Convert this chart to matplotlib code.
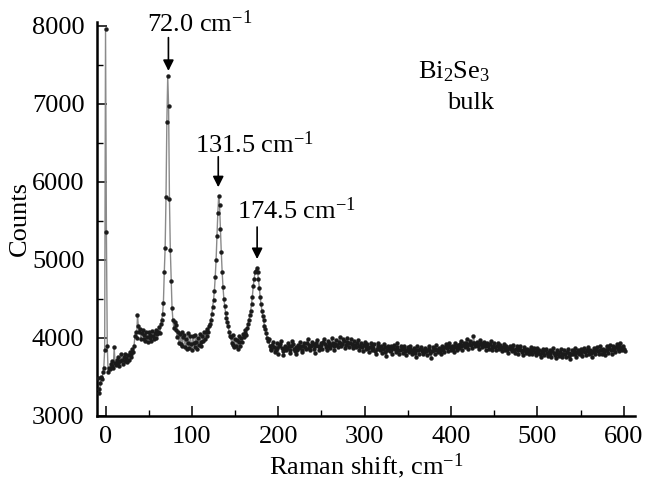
import numpy as np
import matplotlib
matplotlib.use("Agg")
import matplotlib.pyplot as plt
from matplotlib.ticker import MultipleLocator

# ---- data (Raman spectrum) ----
# segment A: 1 cm^-1 grid starting at -9 cm^-1
seg_a_start = -9.0
seg_a_step = 1.0
seg_a_counts = [
    3480, 3350, 3300, 3420, 3500, 3470, 3560, 3620, 3850, 7950,
    5350, 3900, 3560, 3620, 3600, 3660, 3640, 3700, 3610, 3880,
    3680, 3650, 3720, 3680, 3760, 3640, 3700, 3790, 3720, 3660,
    3750, 3700, 3800, 3740, 3690, 3780, 3720, 3820, 3760, 3800,
    3860, 3820, 3900, 4020, 4080, 4000, 4290, 4150, 4080, 4120,
    3980, 4060, 4100, 3990, 4040, 3960, 4070, 4010, 3950, 4080,
    4000, 4040, 3960, 4090, 4020, 3980, 4060, 4000, 4100, 4050,
    4080, 4140, 4060, 4180, 4230, 4300, 4450, 4840, 5150, 5800,
    6770, 7350, 6970, 5775, 5130, 4730, 4380, 4230, 4130, 4200,
    4100, 4170, 4010, 4080, 3940, 4050, 3920, 4070, 3900, 4010,
    4040, 3880, 3990, 3860, 4060, 3940, 3870, 4020, 3920, 3850,
    4030, 3930, 3880, 4040, 3950, 3860, 4000, 3910, 4050, 3950,
    3900, 4020, 3960, 4070, 3980, 4080, 4030, 4110, 4080, 4150,
    4180, 4230, 4300, 4400, 4480, 4600, 4780, 5000, 5300, 5600,
    5820, 5700, 5400, 5100, 4850, 4650, 4500, 4410, 4320, 4250,
    4200, 4150, 4080, 4030, 4010, 3940, 4040, 3910, 3880, 3990,
    3890, 3970, 3860, 3950, 4020, 3900, 4000, 3950, 4050, 4010,
    4060, 4100, 4040, 4130, 4180, 4230, 4290, 4350, 4430, 4530,
    4660, 4750, 4840, 4860, 4890, 4840, 4760, 4640, 4530, 4430,
    4350, 4280, 4230, 4150, 4120, 4060, 4000, 3960, 3980,
]
# segment B: 1 cm^-1 grid starting at 190 cm^-1
seg_b_start = 190.0
seg_b_step = 1.0
seg_b_counts = [
    3900, 3860, 3840, 3910, 3950, 3880, 3820, 3850, 3930, 3870, 3800, 3890, 3920, 3960, 3870, 3830, 3780, 3860, 3900, 3840,
    3870, 3930, 3890, 3810, 3850, 3900, 3960, 3920, 3860, 3830, 3880, 3800, 3840, 3910, 3870, 3950, 3890, 3850, 3820, 3900,
    3930, 3880, 3860, 3940, 3990, 3910, 3870, 3840, 3900, 3950, 3920, 3860, 3810, 3890, 3930, 3970, 3900, 3850, 3880, 3940,
    3910, 3860, 3950, 3990, 3920, 3880, 3840, 3900, 3960, 3930, 3870, 3910, 4000, 3940, 3890, 3850, 3920, 3970, 3910, 3880,
    3950, 4010, 3940, 3890, 3920, 3980, 3960, 3870, 3910, 3950, 4000, 3930, 3880, 3940, 3990, 3920, 3870, 3900, 3960, 3910,
    3880, 3940, 3970, 3900, 3850, 3890, 3930, 3880, 3830, 3910, 3950, 3890, 3860, 3920, 3870, 3820, 3880, 3940, 3900, 3850,
    3870, 3920, 3830, 3790, 3860, 3900, 3940, 3870, 3840, 3890, 3810, 3860, 3920, 3880, 3820, 3770, 3850, 3900, 3870, 3830,
    3890, 3840, 3800, 3870, 3910, 3860, 3820, 3880, 3930, 3850, 3790, 3840, 3890, 3860, 3810, 3870, 3900, 3830, 3780, 3850,
    3880, 3820, 3860, 3900, 3840, 3790, 3830, 3870, 3810, 3760, 3840, 3890, 3850, 3800, 3860, 3880, 3830, 3790, 3850, 3820,
    3870, 3830, 3780, 3850, 3900, 3860, 3810, 3740, 3830, 3880, 3840, 3800, 3860, 3910, 3850, 3820, 3870, 3830, 3790, 3860,
    3900, 3850, 3820, 3880, 3920, 3870, 3830, 3890, 3940, 3880, 3840, 3900, 3860, 3820, 3890, 3930, 3880, 3850, 3910, 3870,
    3920, 3960, 3890, 3850, 3910, 3940, 3880, 3930, 3990, 3900, 3860, 3920, 3960, 3910, 3870, 3930, 4020, 3940, 3890, 3920,
    3950, 3900, 3860, 3920, 3970, 3930, 3880, 3910, 3950, 3890, 3850, 3910, 3940, 3900, 3860, 3920, 3960, 3880, 3850, 3900,
    3930, 3880, 3840, 3900, 3940, 3890, 3860, 3910, 3870, 3830, 3880, 3920, 3870, 3840, 3890, 3850, 3810, 3870, 3900, 3860,
    3830, 3880, 3910, 3850, 3810, 3860, 3890, 3840, 3800, 3870, 3900, 3850, 3820, 3780, 3850, 3880, 3840, 3810, 3860, 3830,
    3800, 3850, 3880, 3830, 3790, 3840, 3870, 3820, 3780, 3830, 3870, 3810, 3850, 3790, 3760, 3830, 3860, 3810, 3780, 3840,
    3860, 3810, 3770, 3820, 3850, 3800, 3760, 3830, 3870, 3810, 3780, 3740, 3810, 3850, 3800, 3770, 3820, 3860, 3790, 3750,
    3800, 3840, 3790, 3750, 3820, 3860, 3810, 3770, 3730, 3800, 3840, 3790, 3830, 3870, 3800, 3760, 3820, 3850, 3790, 3830,
    3860, 3800, 3770, 3830, 3870, 3820, 3780, 3840, 3880, 3830, 3790, 3850, 3810, 3760, 3830, 3870, 3820, 3790, 3850, 3880,
    3830, 3790, 3850, 3890, 3840, 3800, 3860, 3820, 3780, 3850, 3900, 3840, 3810, 3870, 3910, 3850, 3800, 3860, 3900, 3850,
    3820, 3880, 3920, 3860, 3830, 3890, 3940, 3870, 3840, 3900, 3860, 3830,
]

peak_labels = ["72.0 cm$^{-1}$", "131.5 cm$^{-1}$", "174.5 cm$^{-1}$"]
peak_arrow_x = [72.8, 130.5, 175.5]
peak_arrow_top = [7846, 6320, 5420]
peak_arrow_tip = [7420, 5930, 5010]
peak_text_xy = [(109.5, 8030), (172.6, 6480), (221, 5630)]

xticks = [0, 100, 200, 300, 400, 500, 600]
yticks = [3000, 4000, 5000, 6000, 7000, 8000]

# ---- style ----
plt.rcParams["font.family"] = ["Liberation Serif", "DejaVu Serif"]
plt.rcParams["mathtext.fontset"] = "custom"
plt.rcParams["mathtext.rm"] = "Liberation Serif"
plt.rcParams["mathtext.it"] = "Liberation Serif:italic"
plt.rcParams["mathtext.default"] = "rm"
FS = 19

fig = plt.figure(figsize=(6.46, 4.82), dpi=100)
ax = fig.add_axes([0.150, 0.137, 0.833, 0.818])

xa = seg_a_start + seg_a_step * np.arange(len(seg_a_counts))
xb = seg_b_start + seg_b_step * np.arange(len(seg_b_counts))
x = np.concatenate([xa, xb])
y = np.concatenate([np.array(seg_a_counts, float), np.array(seg_b_counts, float)])

ax.plot(x, y, color="#8a8a8a", lw=1.0, zorder=2)
ax.plot(x, y, ls="none", marker="o", ms=2.8, mfc="#1a1a1a", mec="#1a1a1a",
        mew=0.3, zorder=3)

ax.set_xlim(-10, 613)
ax.set_ylim(3000, 8050)
ax.set_xticks(xticks)
ax.set_yticks(yticks)
ax.xaxis.set_minor_locator(MultipleLocator(50))
ax.yaxis.set_minor_locator(MultipleLocator(500))
ax.tick_params(which="major", direction="in", length=7.5, width=1.1,
               labelsize=FS)
ax.tick_params(axis="x", which="major", pad=7)
ax.tick_params(axis="y", which="major", pad=9)
ax.tick_params(which="minor", direction="in", length=4.5, width=1.0)
for s in ["top", "right"]:
    ax.spines[s].set_visible(False)
for s in ["left", "bottom"]:
    ax.spines[s].set_linewidth(1.8)

ax.set_xlabel("Raman shift, cm$^{-1}$", fontsize=FS, labelpad=3)
ax.set_ylabel("Counts", fontsize=FS, labelpad=0.5)

for lab, ax_x, top, tip, (tx, ty) in zip(peak_labels, peak_arrow_x,
                                          peak_arrow_top, peak_arrow_tip,
                                          peak_text_xy):
    ax.annotate("", xy=(ax_x, tip), xytext=(ax_x, top),
                arrowprops=dict(arrowstyle="-|>", color="black", lw=1.2,
                                mutation_scale=16, shrinkA=0, shrinkB=0),
                annotation_clip=False)
    ax.text(tx, ty, lab, fontsize=FS, ha="center", va="center", clip_on=False)

ax.text(362, 7410, "Bi$_2$Se$_3$", fontsize=FS, ha="left", va="center")
ax.text(395, 7013, "bulk", fontsize=FS, ha="left", va="center")

fig.savefig("out.png", dpi=100)
